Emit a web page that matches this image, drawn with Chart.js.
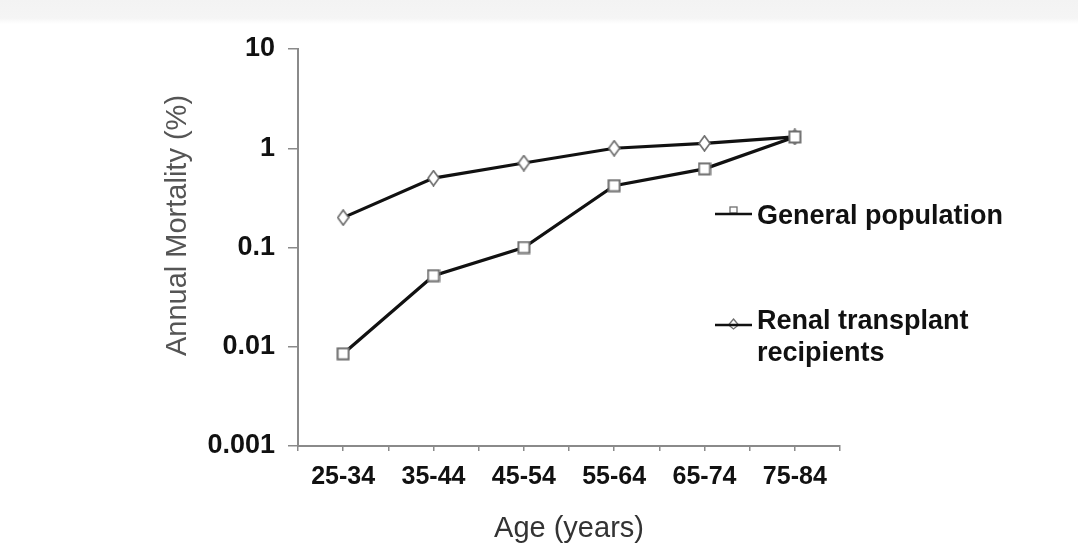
<!DOCTYPE html>
<html><head><meta charset="utf-8">
<script src="https://cdn.jsdelivr.net/npm/chart.js@4.4.1/dist/chart.umd.min.js"></script>
<style>
html,body{margin:0;padding:0;}
body{background:linear-gradient(to bottom,#f3f3f3 0px,#f5f5f5 18px,#ffffff 24px);width:1078px;height:556px;overflow:hidden;}
canvas{display:block;}
</style></head><body>
<canvas id="c" width="1078" height="556"></canvas>
<script>
const categories = ['25-34','35-44','45-54','55-64','65-74','75-84'];
const seriesNames = ['General population','Renal transplant recipients'];
const generalPopulation = [0.0085, 0.052, 0.10, 0.42, 0.62, 1.3];
const renalRecipients = [0.20, 0.50, 0.71, 1.0, 1.12, 1.3];
const yTickValues = [0.001, 0.01, 0.1, 1, 10];
const yTickLabels = ['0.001','0.01','0.1','1','10'];
const xTitle = 'Age (years)';
const yTitle = 'Annual Mortality (%)';

const FONT = '"Liberation Sans", Arial, Helvetica, sans-serif';
const MARK_GRAY = '#6f6f6f';

function squareMarker(){
  const c = document.createElement('canvas'); c.width = 14; c.height = 14;
  const g = c.getContext('2d');
  g.fillStyle = '#fff'; g.fillRect(1,1,12,12);
  g.strokeStyle = MARK_GRAY; g.lineWidth = 2; g.strokeRect(1.5,1.5,11,11);
  return c;
}
function diamondMarker(){
  const c = document.createElement('canvas'); c.width = 13; c.height = 17;
  const g = c.getContext('2d');
  g.beginPath(); g.moveTo(6.5,1); g.lineTo(12,8.5); g.lineTo(6.5,16); g.lineTo(1,8.5); g.closePath();
  g.fillStyle = '#fff'; g.fill();
  g.strokeStyle = MARK_GRAY; g.lineWidth = 1.7; g.stroke();
  return c;
}

const toPoints = arr => arr.map((v, i) => ({x: i, y: v}));

const yTitlePlugin = {
  id: 'yTitle',
  afterDraw(chart){
    const ctx = chart.ctx, a = chart.chartArea;
    ctx.save();
    ctx.translate(a.left - 120, (a.top + a.bottom) / 2 - 22);
    ctx.rotate(-Math.PI / 2);
    ctx.font = '29px ' + FONT;
    ctx.fillStyle = '#555';
    ctx.textAlign = 'center';
    ctx.textBaseline = 'middle';
    ctx.fillText(yTitle, 0, 0);
    ctx.restore();
  }
};

const sideLegend = {
  id: 'sideLegend',
  afterDraw(chart){
    const ctx = chart.ctx;
    const rows = [
      {name: seriesNames[0], lineY: 214, textY: 217, kind: 'square'},
      {name: seriesNames[1], lineY: 325, textY: 322, kind: 'diamond'}
    ];
    const x1 = 715, x2 = 752, tx = 757, lh = 32, maxW = 300;
    ctx.save();
    ctx.font = 'bold 27px ' + FONT;
    ctx.textBaseline = 'middle';
    rows.forEach(r => {
      const cx = (x1 + x2) / 2;
      ctx.strokeStyle = MARK_GRAY; ctx.lineWidth = 1.3; ctx.fillStyle = '#fff';
      if (r.kind === 'square') {
        ctx.fillRect(cx-3.5, r.lineY-7, 7, 6); ctx.strokeRect(cx-3.5, r.lineY-7, 7, 6);
      } else {
        ctx.beginPath(); ctx.moveTo(cx, r.lineY-6); ctx.lineTo(cx+5, r.lineY); ctx.lineTo(cx, r.lineY+4); ctx.lineTo(cx-5, r.lineY); ctx.closePath();
        ctx.fill(); ctx.stroke();
      }
      ctx.strokeStyle = '#111'; ctx.lineWidth = 2.6;
      ctx.beginPath(); ctx.moveTo(x1, r.lineY); ctx.lineTo(x2, r.lineY); ctx.stroke();
      ctx.fillStyle = '#111';
      const words = r.name.split(' ');
      const lines = []; let cur = '';
      words.forEach(w => {
        const t = cur ? cur + ' ' + w : w;
        if (ctx.measureText(t).width > maxW && cur) { lines.push(cur); cur = w; } else cur = t;
      });
      if (cur) lines.push(cur);
      lines.forEach((ln, i) => ctx.fillText(ln, tx, r.textY + i * lh));
    });
    ctx.restore();
  }
};

new Chart(document.getElementById('c'), {
  type: 'line',
  data: {
    datasets: [
      {label: seriesNames[0], data: toPoints(generalPopulation), borderColor: '#111', borderWidth: 3.2,
       pointStyle: squareMarker(), pointRadius: 7, tension: 0},
      {label: seriesNames[1], data: toPoints(renalRecipients), borderColor: '#111', borderWidth: 3.2,
       pointStyle: diamondMarker(), pointRadius: 7, tension: 0}
    ]
  },
  options: {
    responsive: false,
    animation: false,
    events: [],
    layout: {padding: {left: 161, right: 238, top: 49, bottom: 0}},
    plugins: {legend: {display: false}, tooltip: {enabled: false}},
    scales: {
      x: {
        type: 'linear', min: -0.5, max: 5.5,
        afterBuildTicks: s => { const t = []; for (let i = 0; i <= 12; i++) t.push({value: -0.5 + i * 0.5}); s.ticks = t; },
        afterFit: s => { s.height = 110; },
        ticks: {
          autoSkip: false, maxRotation: 0, padding: 11, color: '#111',
          font: {family: FONT, size: 25, weight: 'bold'},
          callback: v => Number.isInteger(v) && v >= 0 && v < categories.length ? categories[v] : ''
        },
        grid: {drawOnChartArea: false, drawTicks: true, tickLength: 5, color: '#8a8a8a', lineWidth: 1.5},
        border: {display: true, color: '#8a8a8a', width: 2},
        title: {display: true, text: xTitle, color: '#333', font: {family: FONT, size: 29, weight: 'normal'}, padding: {top: 0, bottom: 10}}
      },
      y: {
        type: 'logarithmic', min: 0.001, max: 10,
        afterBuildTicks: s => { s.ticks = yTickValues.map(v => ({value: v})); },
        afterFit: s => { s.width = 137; },
        ticks: {
          autoSkip: false, padding: 13, color: '#111',
          font: {family: FONT, size: 27, weight: 'bold'},
          callback: v => { const i = yTickValues.indexOf(v); return i >= 0 ? yTickLabels[i] : ''; }
        },
        grid: {drawOnChartArea: false, drawTicks: true, tickLength: 10, color: '#8a8a8a', lineWidth: 1.5},
        border: {display: true, color: '#8a8a8a', width: 2},
        title: {display: false}
      }
    }
  },
  plugins: [yTitlePlugin, sideLegend]
});
</script>
</body></html>
